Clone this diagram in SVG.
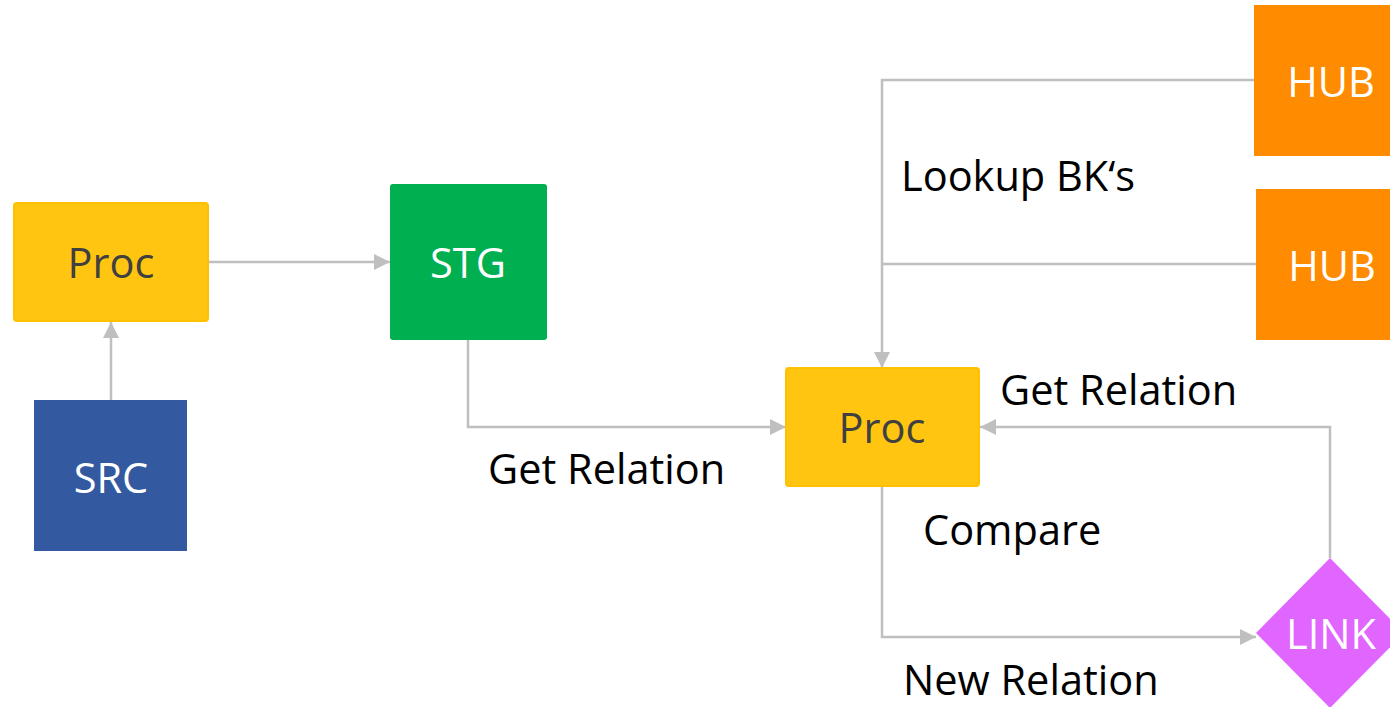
<svg xmlns="http://www.w3.org/2000/svg" width="1390" height="707" viewBox="0 0 1390 707">
<style>
.t{font-family:"Open Sans","Liberation Sans",sans-serif;font-size:41.5px}
.lbl{fill:#000}
.w{fill:#fff;text-anchor:middle}
.d{fill:#404040;text-anchor:middle}
.c{fill:none;stroke:#BFBFBF;stroke-width:2.5}
</style>
<defs>
<marker id="ah" viewBox="0 0 10 10" refX="10" refY="5" markerWidth="6.5" markerHeight="6.5" markerUnits="strokeWidth" orient="auto">
<path d="M0,0 L10,5 L0,10 z" fill="#BFBFBF"/>
</marker>
</defs>
<g id="connectors">
<path class="c" d="M111,400 V322" marker-end="url(#ah)"/>
<path class="c" d="M208,262 H390" marker-end="url(#ah)"/>
<path class="c" d="M468,340 V427 H786" marker-end="url(#ah)"/>
<path class="c" d="M1254,80 H882 V368" marker-end="url(#ah)"/>
<path class="c" d="M1256,264 H882"/>
<path class="c" d="M1330,558 V427 H980" marker-end="url(#ah)"/>
<path class="c" d="M882,486 V637 H1256" marker-end="url(#ah)"/>
</g>
<g id="proc1">
<rect x="14" y="203" width="194" height="118" rx="3" fill="#FFC511" stroke="#FFC000" stroke-width="2"/>
<text class="t d" x="111" y="278">Proc</text>
</g>
<g id="src">
<rect x="34" y="400" width="153" height="151" fill="#335AA0"/>
<text class="t w" x="111" y="493">SRC</text>
</g>
<g id="stg">
<rect x="390" y="184" width="157" height="156" rx="3" fill="#00B050"/>
<text class="t w" x="468" y="278">STG</text>
</g>
<g id="proc2">
<rect x="786" y="368" width="193" height="118" rx="3" fill="#FFC511" stroke="#FFC000" stroke-width="2"/>
<text class="t d" x="882" y="443">Proc</text>
</g>
<g id="hub1">
<rect x="1254" y="5" width="140" height="151" fill="#FF8C00"/>
<text class="t w" x="1331" y="97">HUB</text>
</g>
<g id="hub2">
<rect x="1256" y="189" width="140" height="151" fill="#FF8C00"/>
<text class="t w" x="1332" y="281">HUB</text>
</g>
<g id="link">
<polygon points="1330,558 1404,633 1330,708 1256,633" fill="#E066FF"/>
<text class="t w" x="1331" y="649">LINK</text>
</g>
<g id="labels">
<text class="t lbl" x="901" y="191">Lookup BK‘s</text>
<text class="t lbl" x="488" y="484">Get Relation</text>
<text class="t lbl" x="1000" y="405">Get Relation</text>
<text class="t lbl" x="923" y="545">Compare</text>
<text class="t lbl" x="903" y="695">New Relation</text>
</g>
</svg>
